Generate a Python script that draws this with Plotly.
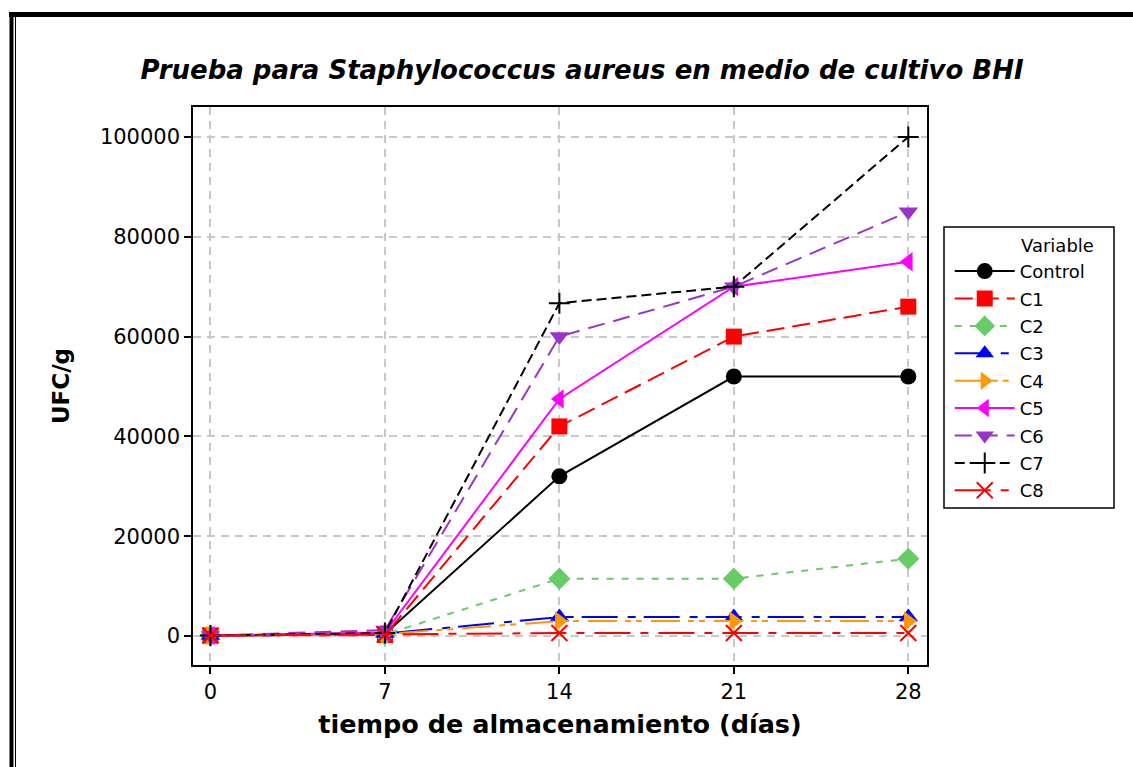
import plotly.graph_objects as go

# Storage days and colony counts (UFC/g) per treatment
dias = [0, 7, 14, 21, 28]
control = [100, 400, 32000, 52000, 52000]
c1 = [100, 200, 42000, 60000, 66000]
c2 = [100, 300, 11500, 11500, 15500]
c3 = [100, 500, 3800, 3800, 3800]
c4 = [100, 400, 3000, 3000, 3000]
c5 = [100, 700, 47500, 70000, 75000]
c6 = [100, 1200, 60000, 70000, 85000]
c7 = [100, 600, 66700, 70000, 100000]
c8 = [100, 300, 600, 600, 600]

y_ticks = [0, 20000, 40000, 60000, 80000, 100000]

FONT = "DejaVu Sans"
W, H = 1133, 767
L, R, T, B = 193, 927, 107, 665  # plot area edges in px

series = [
    ("Control", control, "black", "solid", "circle", 16, {}),
    ("C1", c1, "#FF0000", "18px,8px", "square", 16, {}),
    ("C2", c2, "#66CC66", "7px,8px", "diamond", 17, {}),
    ("C3", c3, "#0000FF", "36px,10px,8px,8px", "triangle-up", 17, {}),
    ("C4", c4, "#FF9900", "29px,8px,6px,5px,6px,9px", "triangle-right", 17, {}),
    ("C5", c5, "#FF00FF", "solid", "triangle-left", 17, {}),
    ("C6", c6, "#9933CC", "17px,9px", "triangle-down", 17, {}),
    ("C7", c7, "black", "10px,5px", "cross-thin", 15, {"line": dict(width=2, color="black")}),
    ("C8", c8, "#FF0000", "36px,10px,8px,10px", "x-thin", 16, {"line": dict(width=2, color="#FF0000")}),
]

fig = go.Figure()
for i, (name, vals, col, dash, sym, size, extra) in enumerate(series):
    marker = dict(symbol=sym, size=size, color=col)
    marker.update(extra)
    fig.add_trace(go.Scatter(
        x=dias, y=vals, name=name, mode="lines+markers",
        line=dict(color=col, width=2, dash=dash),
        marker=marker, legendgroup=f"g{i}",
    ))

def px_x(px):
    return (px - L) / (R - L)

def px_y(py):
    return (B - py) / (B - T)

shapes = []
# outer frame
shapes.append(dict(type="line", xref="paper", yref="paper",
                   x0=px_x(9), x1=px_x(1140), y0=px_y(14.5), y1=px_y(14.5),
                   line=dict(color="black", width=5)))
shapes.append(dict(type="line", xref="paper", yref="paper",
                   x0=px_x(11.5), x1=px_x(11.5), y0=px_y(12), y1=px_y(775),
                   line=dict(color="black", width=4)))
shapes.append(dict(type="line", xref="paper", yref="paper",
                   x0=px_x(15.5), x1=px_x(15.5), y0=px_y(17), y1=px_y(775),
                   line=dict(color="black", width=1)))
# legend box
shapes.append(dict(type="rect", xref="paper", yref="paper", layer="above",
                   x0=px_x(944), x1=px_x(1114), y0=px_y(508), y1=px_y(227),
                   line=dict(color="black", width=1.5), fillcolor="white"))

fig.update_layout(
    width=W, height=H,
    margin=dict(l=L, r=W - R, t=T, b=H - B),
    paper_bgcolor="white", plot_bgcolor="white",
    font=dict(family=FONT, color="black"),
    title=dict(
        text="<b><i>Prueba para Staphylococcus aureus en medio de cultivo BHI</i></b>",
        font=dict(size=26, family=FONT), x=582 / W, xanchor="center",
        y=1 - 70 / H, yanchor="middle",
    ),
    xaxis=dict(
        range=[-0.7, 28.75], tickvals=dias, ticktext=[str(d) for d in dias],
        showline=True, linecolor="black", linewidth=1.5, mirror=True,
        ticks="outside", ticklen=7, tickwidth=1.5, tickcolor="black",
        tickfont=dict(size=21), zeroline=False,
        showgrid=True, gridcolor="#C8C8C8", gridwidth=1.5, griddash="8px,6px",
        title=dict(text="<b>tiempo de almacenamiento (días)</b>", font=dict(size=25.5), standoff=12),
    ),
    yaxis=dict(
        range=[-5800, 106000], tickvals=y_ticks, ticktext=[str(v) for v in y_ticks],
        showline=True, linecolor="black", linewidth=1.5, mirror=True,
        ticks="outside", ticklen=7, tickwidth=1.5, tickcolor="black",
        tickfont=dict(size=21), zeroline=False,
        showgrid=True, gridcolor="#C8C8C8", gridwidth=1.5, griddash="8px,6px",
        title=dict(text="<b>UFC/g</b>", font=dict(size=23), standoff=24),
    ),
    legend=dict(
        x=px_x(944), y=px_y(229.5), xanchor="left", yanchor="top",
        borderwidth=0, bgcolor="rgba(0,0,0,0)",
        font=dict(size=18, family=FONT), tracegroupgap=1,
        title=dict(text="&nbsp;", font=dict(size=18), side="top left"),
        itemwidth=60,
    ),
    annotations=[dict(
        text="Variable", xref="paper", yref="paper",
        x=px_x(1019), y=px_y(245), xanchor="left", yanchor="middle",
        showarrow=False, font=dict(size=18, family=FONT),
    )],
    shapes=shapes,
)

fig.write_html("out.html")
